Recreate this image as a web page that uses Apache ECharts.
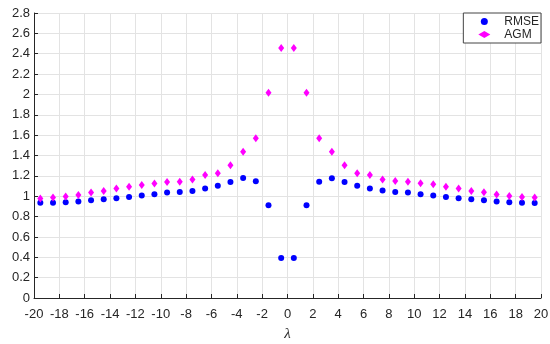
<!DOCTYPE html>
<html>
<head>
<meta charset="utf-8">
<script src="https://cdn.jsdelivr.net/npm/echarts@6/dist/echarts.min.js"></script>
<style>html,body{margin:0;padding:0;background:#fff}#c{width:550px;height:344px}</style>
</head>
<body>
<div id="c"></div>
<script>
const lambda = [-19.5,-18.5,-17.5,-16.5,-15.5,-14.5,-13.5,-12.5,-11.5,-10.5,-9.5,-8.5,-7.5,-6.5,-5.5,-4.5,-3.5,-2.5,-1.5,-0.5,
                0.5,1.5,2.5,3.5,4.5,5.5,6.5,7.5,8.5,9.5,10.5,11.5,12.5,13.5,14.5,15.5,16.5,17.5,18.5,19.5];
const rmse = [0.937,0.937,0.941,0.947,0.960,0.970,0.980,0.993,1.006,1.019,1.036,1.042,1.052,1.075,1.104,1.140,1.179,1.147,0.911,0.392,
              0.392,0.911,1.143,1.176,1.140,1.104,1.075,1.055,1.042,1.036,1.019,1.006,0.993,0.980,0.970,0.960,0.947,0.941,0.937,0.934];
const agm = [0.977,0.987,0.997,1.013,1.036,1.052,1.075,1.094,1.111,1.124,1.140,1.143,1.163,1.209,1.225,1.304,1.438,1.569,2.016,2.457,
             2.457,2.016,1.569,1.438,1.304,1.225,1.209,1.163,1.150,1.143,1.127,1.117,1.094,1.075,1.052,1.039,1.016,1.003,0.993,0.987];
const seriesNames = ['RMSE','AGM'];

const chart = echarts.init(document.getElementById('c'), null, {renderer:'canvas'});
const axisCol = '#262626';
const font = 'Liberation Sans, Arial, sans-serif';
chart.setOption({
  animation: false,
  backgroundColor: '#fff',
  grid: {left: 34, right: 9, top: 13, bottom: 46, containLabel: false, outerBoundsMode: 'none'},
  xAxis: {
    type: 'value', min: -20, max: 20, interval: 2,
    name: 'λ', nameLocation: 'middle', nameGap: 29,
    nameTextStyle: {fontFamily: 'Liberation Serif, Times New Roman, serif', fontStyle: 'italic', fontSize: 15, color: axisCol},
    axisLine: {show: true, onZero: false, lineStyle: {color: axisCol, width: 1}},
    axisTick: {show: true, inside: true, length: 4, lineStyle: {color: axisCol}},
    axisLabel: {color: axisCol, fontSize: 13, fontFamily: font, margin: 10},
    splitLine: {show: true, lineStyle: {color: '#e3e3e3', width: 1}}
  },
  yAxis: {
    type: 'value', min: 0, max: 2.8, interval: 0.2,
    axisLine: {show: true, onZero: false, lineStyle: {color: axisCol, width: 1}},
    axisTick: {show: true, inside: true, length: 4, lineStyle: {color: axisCol}},
    axisLabel: {color: axisCol, fontSize: 13, fontFamily: font, margin: 4,
      formatter: v => String(Math.round(v*10)/10)},
    splitLine: {show: true, lineStyle: {color: '#e3e3e3', width: 1}}
  },
  legend: {
    orient: 'vertical', right: 9, top: 13,
    backgroundColor: '#fff', borderColor: '#444', borderWidth: 1,
    padding: [2, 2, 2, 15], itemGap: 0,
    itemWidth: 12, itemHeight: 7,
    textStyle: {fontSize: 12, fontFamily: font, color: '#262626', padding: [0,0,0,9], lineHeight: 13},
    data: [{name: seriesNames[0], icon: 'circle'}, {name: seriesNames[1], icon: 'diamond'}]
  },
  series: [
    {name: seriesNames[0], type: 'scatter', symbol: 'circle', symbolSize: 6,
     itemStyle: {color: '#0000ff', opacity: 1}, data: lambda.map((x,i)=>[x, rmse[i]])},
    {name: seriesNames[1], type: 'scatter', symbol: 'diamond', symbolSize: [6,8],
     itemStyle: {color: '#ff00ff', opacity: 1}, data: lambda.map((x,i)=>[x, agm[i]])}
  ]
});
</script>
</body>
</html>
